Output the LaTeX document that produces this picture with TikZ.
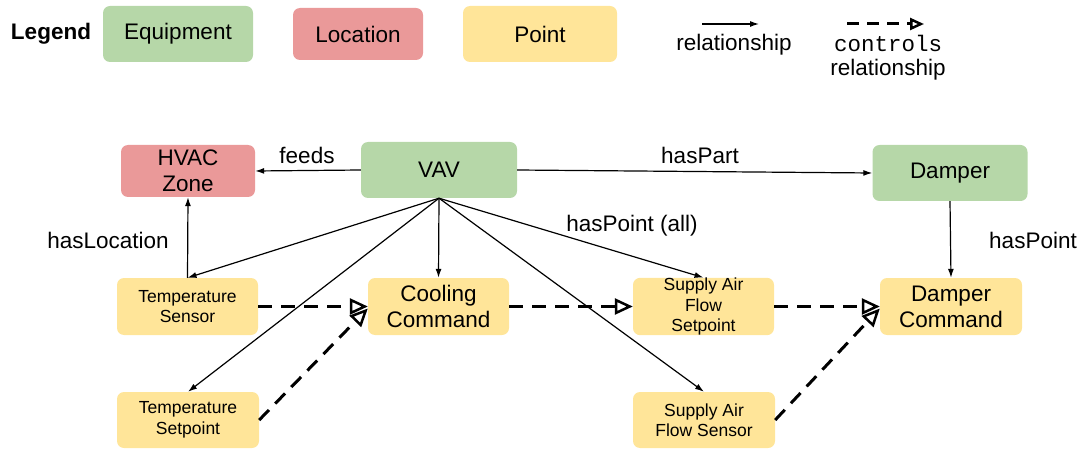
\documentclass[tikz,border=0pt]{standalone}
\usepackage{fontspec}
\setmainfont{Liberation Sans}
\setmonofont{Liberation Mono}
\usetikzlibrary{arrows.meta}
\definecolor{eqgreen}{HTML}{B6D7A8}
\definecolor{locred}{HTML}{EA9999}
\definecolor{ptyellow}{HTML}{FFE599}
\tikzset{
  box/.style={rounded corners=7pt, inner sep=0pt, align=center, font=\fontsize{22.5}{26}\selectfont},
  equip/.style={box, fill=eqgreen},
  loc/.style={box, fill=locred},
  pt/.style={box, fill=ptyellow},
  small/.style={font=\fontsize{17.5}{20.5}\selectfont},
  lbl/.style={inner sep=0pt, font=\fontsize{22.5}{26}\selectfont, align=center},
  rel/.style={-{Latex[length=9pt,width=6pt]}, line width=1.2pt},
  ctl/.style={-{Triangle[open,length=18pt,width=16pt,line width=2.5pt]}, line width=3pt, dash pattern=on 14pt off 9pt},
}
\begin{document}
\begin{tikzpicture}[x=1pt,y=-1pt]
\useasboundingbox (0,0) rectangle (1081,449);
% legend
\node[lbl, font=\fontsize{22.5}{26}\selectfont\bfseries] (leg) at (51,34) {Legend};
\node[equip, minimum width=150pt, minimum height=56pt] (lequip) at (178,34) {Equipment};
\node[loc, minimum width=130pt, minimum height=52pt] (lloc) at (358,34) {Location};
\node[pt, minimum width=154pt, minimum height=56pt] (lpt) at (540,34) {Point};
\coordinate (r1a) at (702,24);
\coordinate (r1b) at (759,24);
\draw[rel] (r1a) -- (r1b);
\node[lbl] (lrel) at (734,45) {relationship};
\coordinate (c1a) at (847,24);
\coordinate (c1b) at (924,24);
\draw[ctl, -{Triangle[open,length=14pt,width=12pt,line width=2.5pt]}, dash pattern=on 12pt off 8pt] (c1a) -- (c1b);
\node[lbl] (lctl) at (888,43) {\ttfamily controls};
\node[lbl] (lctl2) at (888,70) {relationship};
% main nodes
\node[loc, minimum width=134pt, minimum height=52pt] (hvac) at (188,171) {HVAC\\Zone};
\node[equip, minimum width=156pt, minimum height=56pt] (vav) at (439,170) {VAV};
\node[equip, minimum width=155pt, minimum height=56pt] (damper) at (950,173) {Damper};
\node[pt, small, minimum width=141pt, minimum height=57pt] (ts) at (187.5,306.5) {Temperature\\Sensor};
\node[pt, minimum width=141pt, minimum height=57pt] (cc) at (438.5,306.5) {Cooling\\Command};
\node[pt, small, minimum width=141pt, minimum height=57pt] (safsp) at (703.5,306.5) {Supply Air\\Flow\\Setpoint};
\node[pt, minimum width=142pt, minimum height=57pt] (dc) at (951,306.5) {Damper\\Command};
\node[pt, small, minimum width=142pt, minimum height=56pt] (tsp) at (188,420) {Temperature\\Setpoint};
\node[pt, small, minimum width=142pt, minimum height=56pt] (safs) at (704,420) {Supply Air\\Flow Sensor};
% relationships
\draw[rel] (vav.west) -- (hvac.east);
\draw[rel] (vav.east) -- (damper.west);
\draw[rel] (damper.south) -- (dc.north);
\draw[rel] (ts.north) -- (hvac.south);
\draw[rel] (vav.south) -- (ts.north);
\draw[rel] (vav.south) -- (cc.north);
\draw[rel] (vav.south) -- (safsp.north);
\draw[rel] (vav.south) -- (tsp.north);
\draw[rel] (vav.south) -- (safs.north);
% labels
\node[lbl] (lfeeds) at (307,155) {feeds};
\node[lbl] (lhaspart) at (700,155) {hasPart};
\node[lbl] (lhaspointall) at (632,226) {hasPoint (all)};
\node[lbl] (lhaspoint) at (1033,240) {hasPoint};
\node[lbl] (lhasloc) at (108,240) {hasLocation};
% controls
\coordinate (ccin) at ([yshift=-2pt]cc.west);
\coordinate (dcin) at ([yshift=-2pt]dc.west);
\draw[ctl] (ts.east) -- (cc.west);
\draw[ctl] (tsp.east) -- (ccin);
\draw[ctl] (cc.east) -- (safsp.west);
\draw[ctl] (safsp.east) -- (dc.west);
\draw[ctl] (safs.east) -- (dcin);
\end{tikzpicture}
\end{document}
